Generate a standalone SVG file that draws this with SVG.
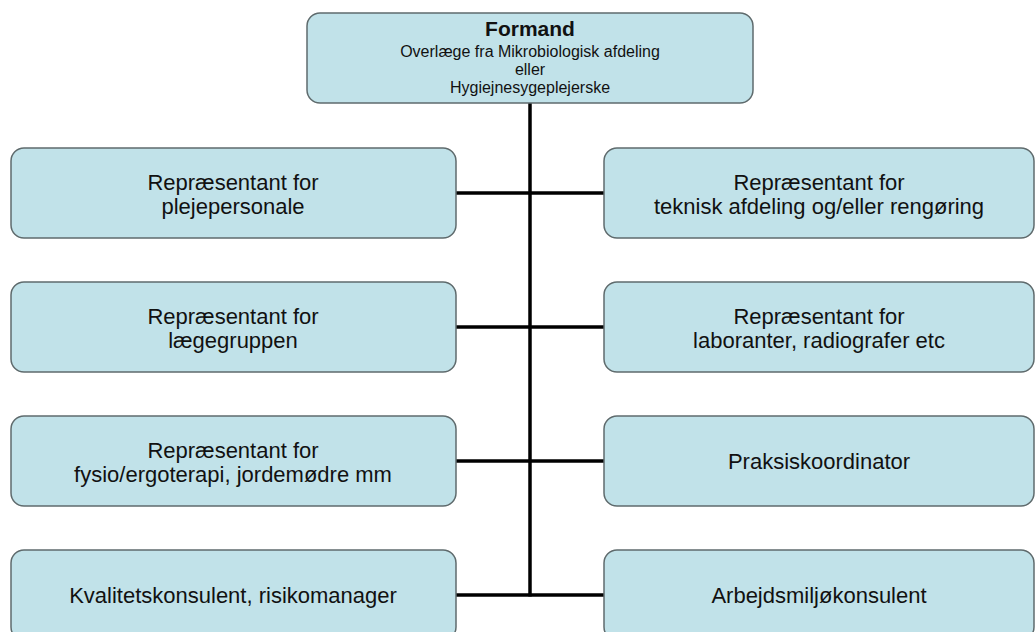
<svg xmlns="http://www.w3.org/2000/svg" width="1036" height="632" viewBox="0 0 1036 632">
<style>
.box{fill:#c1e2e9;stroke:#5f6b6d;stroke-width:1.5}
.t{font-family:"Liberation Sans",Arial,sans-serif;font-size:22px;fill:#111;text-anchor:middle}
.s{font-family:"Liberation Sans",Arial,sans-serif;font-size:16px;fill:#111;text-anchor:middle}
.b{font-family:"Liberation Sans",Arial,sans-serif;font-size:21px;font-weight:bold;fill:#111;text-anchor:middle}
.ln{stroke:#000;stroke-width:3.5;fill:none}
</style>
<rect width="1036" height="632" fill="#fff"/>
<g id="connectors">
<line class="ln" x1="530" y1="103" x2="530" y2="596.5"/>
<line class="ln" x1="456" y1="193" x2="604" y2="193"/>
<line class="ln" x1="456" y1="327" x2="604" y2="327"/>
<line class="ln" x1="456" y1="461" x2="604" y2="461"/>
<line class="ln" x1="456" y1="595" x2="604" y2="595"/>
</g>
<g id="formand">
<rect class="box" x="307" y="13" width="446" height="90" rx="13"/>
<text class="b" x="530" y="36">Formand</text>
<text class="s" x="530" y="57">Overlæge fra Mikrobiologisk afdeling</text>
<text class="s" x="530" y="75">eller</text>
<text class="s" x="530" y="93">Hygiejnesygeplejerske</text>
</g>
<g id="plejepersonale">
<rect class="box" x="11" y="148" width="445" height="90" rx="13"/>
<text class="t" x="233" y="190">Repræsentant for</text>
<text class="t" x="233" y="214">plejepersonale</text>
</g>
<g id="teknisk">
<rect class="box" x="604" y="148" width="430" height="90" rx="13"/>
<text class="t" x="819" y="190">Repræsentant for</text>
<text class="t" x="819" y="214">teknisk afdeling og/eller rengøring</text>
</g>
<g id="laegegruppen">
<rect class="box" x="11" y="282" width="445" height="90" rx="13"/>
<text class="t" x="233" y="324">Repræsentant for</text>
<text class="t" x="233" y="348">lægegruppen</text>
</g>
<g id="laboranter">
<rect class="box" x="604" y="282" width="430" height="90" rx="13"/>
<text class="t" x="819" y="324">Repræsentant for</text>
<text class="t" x="819" y="348">laboranter, radiografer etc</text>
</g>
<g id="fysio">
<rect class="box" x="11" y="416" width="445" height="90" rx="13"/>
<text class="t" x="233" y="458">Repræsentant for</text>
<text class="t" x="233" y="482">fysio/ergoterapi, jordemødre mm</text>
</g>
<g id="praksis">
<rect class="box" x="604" y="416" width="430" height="90" rx="13"/>
<text class="t" x="819" y="469">Praksiskoordinator</text>
</g>
<g id="kvalitet">
<rect class="box" x="11" y="550" width="445" height="90" rx="13"/>
<text class="t" x="233" y="603">Kvalitetskonsulent, risikomanager</text>
</g>
<g id="arbejdsmiljo">
<rect class="box" x="604" y="550" width="430" height="90" rx="13"/>
<text class="t" x="819" y="603">Arbejdsmiljøkonsulent</text>
</g>
</svg>
